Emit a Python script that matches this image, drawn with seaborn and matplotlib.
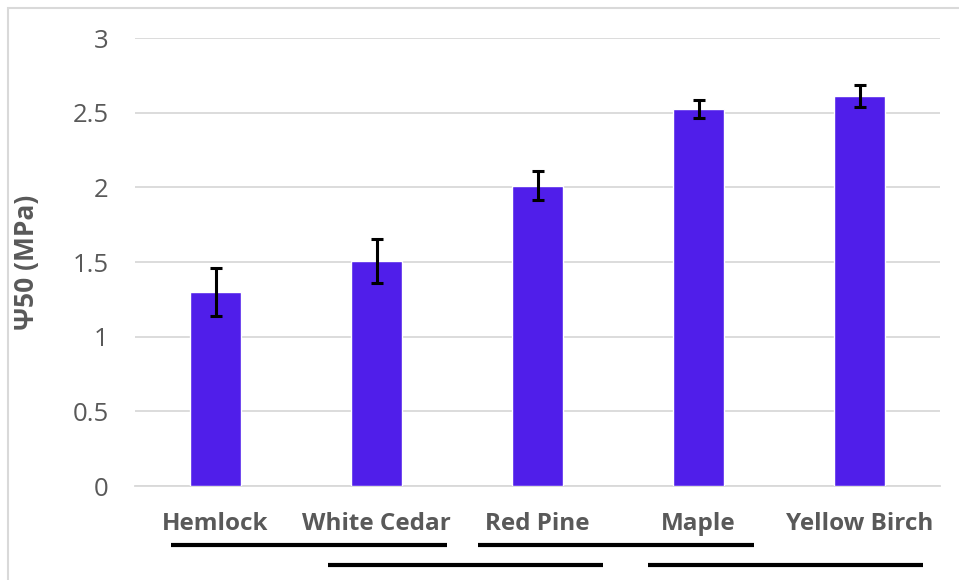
import matplotlib
matplotlib.use("Agg")
import matplotlib.pyplot as plt
import seaborn as sns
import pandas as pd
from matplotlib.patches import Rectangle

species = ["Hemlock", "White Cedar", "Red Pine", "Maple", "Yellow Birch"]
psi50 = [1.30, 1.507, 2.01, 2.525, 2.61]
psi50_err = [0.163, 0.147, 0.097, 0.06, 0.075]

# significance group bars under the labels: (start, end) in category units
groups_row1 = [(-0.276, 1.438), (1.63, 3.345)]
groups_row2 = [(0.699, 2.407), (2.686, 4.394)]

df = pd.DataFrame({"species": species, "psi50": psi50})

sns.set_style("white")
plt.rcParams["font.family"] = ["Open Sans", "DejaVu Sans"]

fig = plt.figure(figsize=(9.59, 5.80), dpi=100)
ax = fig.add_axes([135 / 959, 1 - 486 / 580, 805 / 959, 448 / 580])

sns.barplot(data=df, x="species", y="psi50", color="#501EEA",
            width=0.32, saturation=1, ax=ax, zorder=3)
ax.errorbar(range(len(species)), psi50, yerr=psi50_err, fmt="none",
            ecolor="black", elinewidth=2.2, capsize=4.3, capthick=2.2,
            zorder=4)

ax.set_ylim(0, 3)
ax.set_xlim(-0.5, len(species) - 0.5)
ax.set_yticks([0, 0.5, 1, 1.5, 2, 2.5, 3])
ax.set_yticklabels(["0", "0.5", "1", "1.5", "2", "2.5", "3"])
ax.yaxis.grid(True, color="#D9D9D9", linewidth=1.3, zorder=0)
ax.set_axisbelow(True)
for s in ["top", "right", "left"]:
    ax.spines[s].set_visible(False)
ax.spines["bottom"].set_color("#D9D9D9")
ax.spines["bottom"].set_linewidth(1.3)
ax.tick_params(axis="y", length=0, pad=19, labelsize=18.5, labelcolor="#595959")
ax.tick_params(axis="x", length=0, pad=19, labelsize=17.5, labelcolor="#595959")
for t in ax.get_xticklabels():
    t.set_fontweight("bold")
ax.set_xlabel("")
ax.set_ylabel("Ψ50 (MPa)", fontsize=19, fontweight="bold", color="#595959")
ax.yaxis.set_label_coords(-0.118, 0.5)

trans = ax.get_xaxis_transform()
for x0, x1 in groups_row1:
    ax.plot([x0, x1], [-0.132, -0.132], color="black", lw=3,
            transform=trans, clip_on=False, solid_capstyle="butt")
for x0, x1 in groups_row2:
    ax.plot([x0, x1], [-0.176, -0.176], color="black", lw=3,
            transform=trans, clip_on=False, solid_capstyle="butt")

fig.patches.append(Rectangle((8 / 959, -0.1), 1.1, 1 - 8 / 580 + 0.1,
                             transform=fig.transFigure, fill=False,
                             edgecolor="#D9D9D9", linewidth=1.5))

fig.savefig("out.png", dpi=100)
